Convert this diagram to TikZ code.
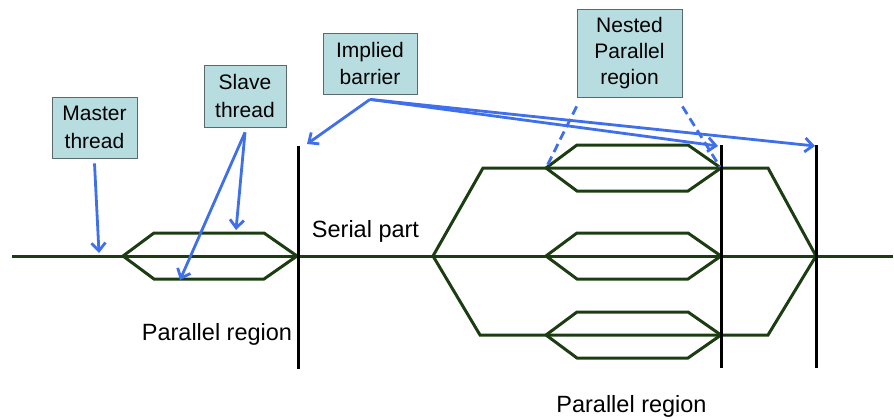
\documentclass[tikz,border=0pt]{standalone}
\usepackage{fontspec}
\setmainfont{Liberation Sans}
\usetikzlibrary{arrows.meta,positioning,calc}
\definecolor{Thread}{HTML}{1C3D12}
\definecolor{Pointer}{HTML}{3F6FEA}
\definecolor{Callout}{HTML}{B8DDE1}
\definecolor{CalloutEdge}{HTML}{5A6A6C}

% one fork/join pair: left apex x, right apex x, centre y
\newcommand\forkjoin[3]{%
  \draw[thread] (#1,#3) -- (#1+31,#3-23) -- (#2-33,#3-23) -- (#2,#3)
    -- (#2-33,#3+23) -- (#1+31,#3+23) -- cycle;}

\begin{document}
\begin{tikzpicture}[x=1pt,y=-1pt,
  thread/.style={draw=Thread,line width=3pt,line join=miter},
  barrier/.style={draw=black,line width=3pt},
  ptr/.style={draw=Pointer,line width=2.8pt,-{Straight Barb[length=8pt,width=14pt]}},
  nestline/.style={draw=Pointer,line width=2.8pt,dash pattern=on 9pt off 5pt},
  callout/.style={draw=CalloutEdge,fill=Callout,line width=0.8pt,align=center,
    font=\fontsize{21}{27.5}\selectfont,inner sep=0pt},
  plain/.style={font=\fontsize{23.5}{27}\selectfont,anchor=base}]
  \useasboundingbox (0,0) rectangle (894,418);

  % master thread and the first parallel region
  \draw[thread] (12,256) -- (893,256);
  \forkjoin{123}{297}{256}

  % outer parallel region with nested teams
  \draw[thread] (433,256) -- (483,168) -- (768,168) -- (816,256)
    -- (768,335) -- (480,335) -- cycle;
  \foreach \y in {168,256,335}{\forkjoin{546}{721}{\y}}

  % barriers
  \draw[barrier] (298,146) -- (298,369);
  \draw[barrier] (721,145) -- (721,368);
  \draw[barrier] (816,145) -- (816,368);

  \node[plain] (serial) at (365.5,237) {Serial part};
  \node[plain] (par1) at (217,340) {Parallel region};
  \node[plain] (par2) at (631.5,412) {Parallel region};

  \node[callout,minimum width=85pt,minimum height=61pt] (master) at (94.5,127.5) {Master\\thread};
  \node[callout,minimum width=82pt,minimum height=62pt] (slave) at (245,96) {Slave\\thread};
  \node[callout,minimum width=94pt,minimum height=61pt] (implied) at (370,63.5) {Implied\\barrier};
  \node[callout,minimum width=105pt,minimum height=88pt,
    font=\fontsize{21}{26}\selectfont] (nested) at (629.5,53) {Nested\\Parallel\\region};

  % arrow targets
  \coordinate (masterpt) at (99,253);
  \coordinate (slavetop) at (236,230);
  \coordinate (slavebot) at (180,280);
  \coordinate (bar1top) at (307,144);
  \coordinate (bar2top) at (718,146);
  \coordinate (bar3top) at (815,146);
  \coordinate (nestL) at (546,168);
  \coordinate (nestR) at (720,167);

  \draw[ptr] ([yshift=-5pt]master.south) -- (masterpt);
  \draw[ptr] ([yshift=-5pt]slave.south) -- (slavetop);
  \draw[ptr] ([yshift=-5pt]slave.south) -- (slavebot);
  \draw[ptr] ([yshift=-5pt]implied.south) -- (bar1top);
  \draw[ptr] ([yshift=-5pt]implied.south) -- (bar2top);
  \draw[ptr] ([yshift=-5pt]implied.south) -- (bar3top);
  \draw[nestline] ([yshift=-9pt]nested.south west) -- (nestL);
  \draw[nestline] ([yshift=-9pt]nested.south east) -- (nestR);
\end{tikzpicture}
\end{document}
